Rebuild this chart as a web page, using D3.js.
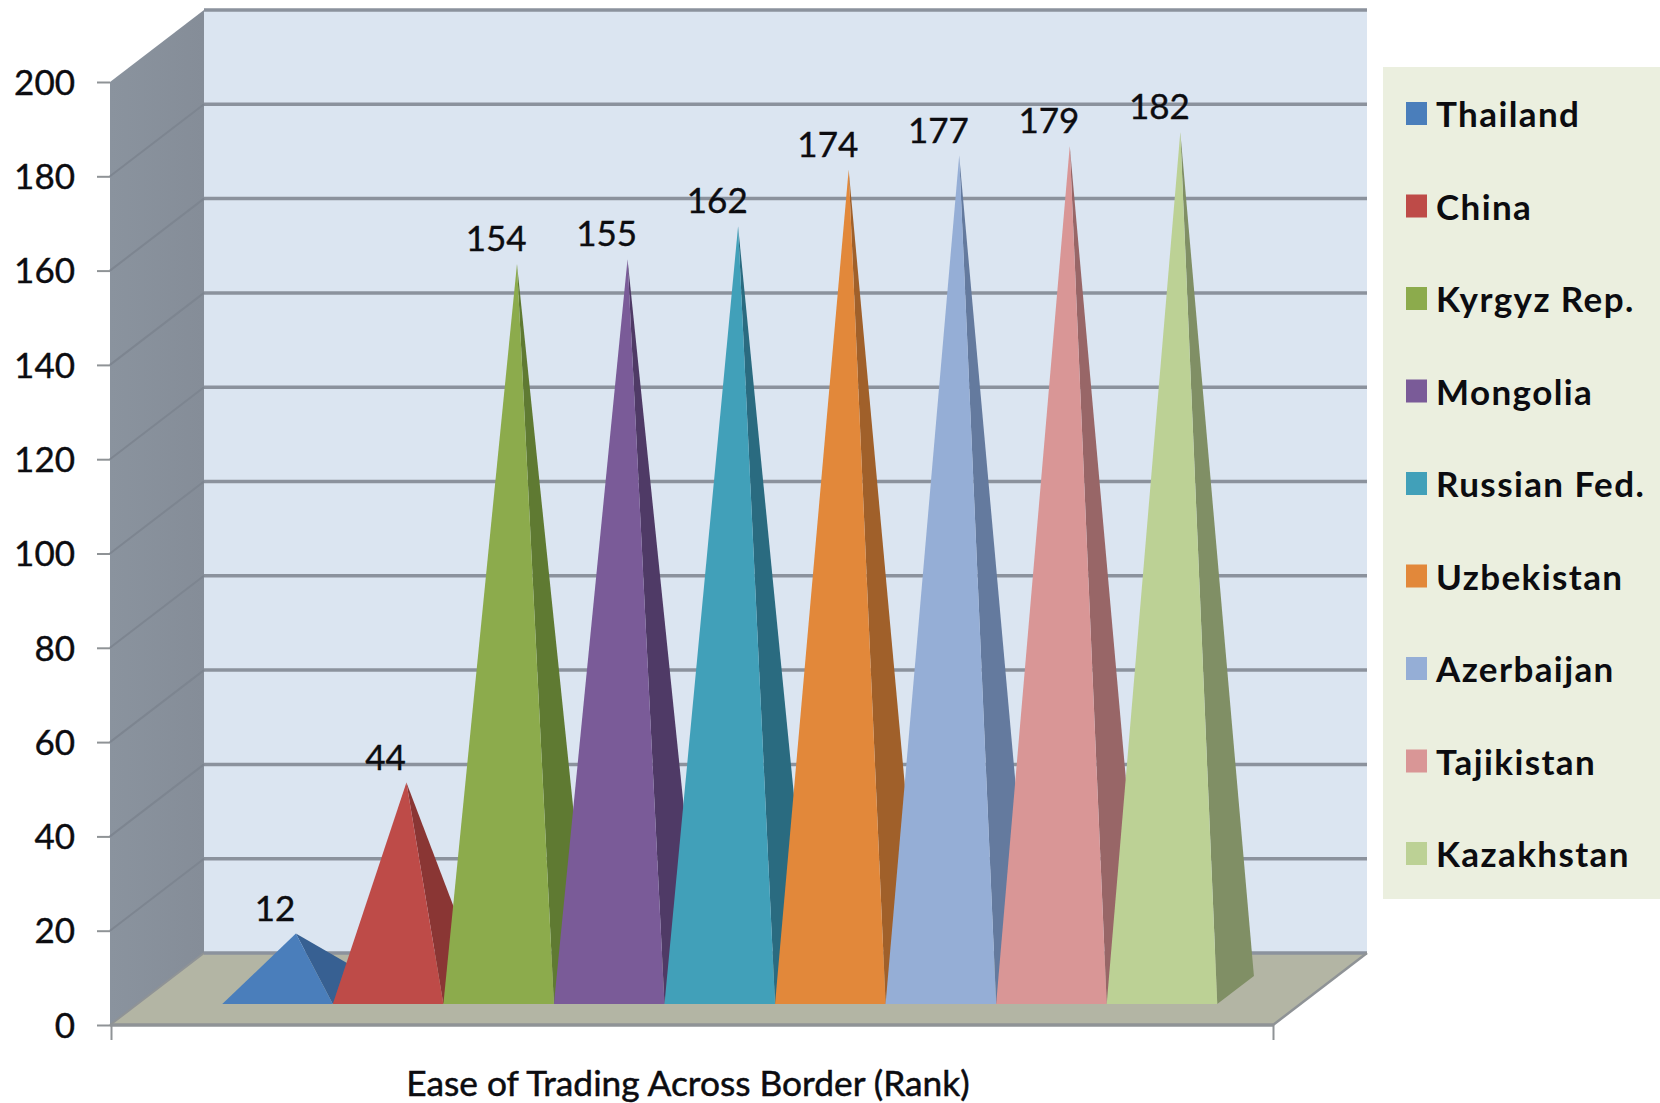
<!DOCTYPE html>
<html>
<head>
<meta charset="utf-8">
<script src="https://cdn.jsdelivr.net/npm/d3@7/dist/d3.min.js"></script>
<style>
  html, body { margin: 0; padding: 0; background: #fff; }
  svg { display: block; }
  text { font-family: Lato, "Open Sans", sans-serif; fill: #0c0c10; }
</style>
</head>
<body>
<svg id="chart" width="1660" height="1103"></svg>
<script>
// Ease of Trading Across Border rank, one pyramid per country
const countries = ["Thailand", "China", "Kyrgyz Rep.", "Mongolia", "Russian Fed.", "Uzbekistan", "Azerbaijan", "Tajikistan", "Kazakhstan"];
const ranks = [12, 44, 154, 155, 162, 174, 177, 179, 182];
const frontColors = ["#4a7ebb", "#be4b48", "#8cab4c", "#7a5b98", "#41a0b9", "#e2883a", "#95aed6", "#d99696", "#bcd195"];
const sideColors = ["#376092", "#8a3634", "#5f7a32", "#4f3a66", "#2a6b80", "#a0602a", "#647a9e", "#986667", "#808f65"];
const valueTicks = [0, 20, 40, 60, 80, 100, 120, 140, 160, 180, 200];
const axisTitle = "Ease of Trading Across Border (Rank)";

// Oblique projection: depth 0 is the front plane, depth 1 the back wall
const frame = { left: 110, right: 1273, bottom: 1025, top: 82, depthX: 94, depthY: -72 };
const baseDepth = { front: 0.29, back: 0.68 };

const y = d3.scaleLinear().domain([0, 200]).range([frame.bottom, frame.top]);
const x = d3.scaleBand().domain(countries).range([195, 1190]);
const depth = d3.scaleLinear().domain([0, 1]).range([0, 1]);
const legendY = d3.scalePoint().domain(countries).range([113, 853]);

const project = (px, value, d) => [
  px + depth(d) * frame.depthX,
  y(value) + depth(d) * frame.depthY
];
const poly = pts => pts.map(p => p.join(",")).join(" ");

const svg = d3.select("#chart");

// Back wall
svg.append("polygon")
  .attr("points", poly([
    project(frame.left, 200, 1), project(frame.right, 200, 1),
    project(frame.right, 0, 1), project(frame.left, 0, 1)
  ]))
  .attr("fill", "#dbe5f1");

// Side wall, with a slight horizontal shade
const defs = svg.append("defs");
const wallShade = defs.append("linearGradient").attr("id", "wallShade");
wallShade.append("stop").attr("offset", "0%").attr("stop-color", "#8a939e");
wallShade.append("stop").attr("offset", "100%").attr("stop-color", "#858d98");
svg.append("polygon")
  .attr("points", poly([
    project(frame.left, 200, 0), project(frame.left, 200, 1),
    project(frame.left, 0, 1), project(frame.left, 0, 0)
  ]))
  .attr("fill", "url(#wallShade)");

// Floor
svg.append("polygon")
  .attr("points", poly([
    project(frame.left, 0, 0), project(frame.right, 0, 0),
    project(frame.right, 0, 1), project(frame.left, 0, 1)
  ]))
  .attr("fill", "#b3b5a4");

// Gridlines across the back wall and the side wall
const grid = svg.append("g").attr("class", "grid");
grid.selectAll("line.back").data(valueTicks).join("line")
  .attr("class", "back")
  .attr("x1", project(frame.left, 0, 1)[0])
  .attr("x2", project(frame.right, 0, 1)[0])
  .attr("y1", d => project(0, d, 1)[1])
  .attr("y2", d => project(0, d, 1)[1])
  .attr("stroke", "#8b929d")
  .attr("stroke-width", 3.5);
grid.selectAll("line.side").data(valueTicks.filter(d => d > 0 && d < 200)).join("line")
  .attr("class", "side")
  .attr("x1", frame.left)
  .attr("y1", d => y(d))
  .attr("x2", project(frame.left, 0, 1)[0])
  .attr("y2", d => project(0, d, 1)[1])
  .attr("stroke", "#7d8590")
  .attr("stroke-width", 2);

// Floor edges
svg.append("line")
  .attr("x1", frame.left).attr("x2", frame.right)
  .attr("y1", y(0)).attr("y2", y(0))
  .attr("stroke", "#8f9396").attr("stroke-width", 3.5);
svg.append("line")
  .attr("x1", frame.left).attr("y1", y(0))
  .attr("x2", project(frame.left, 0, 1)[0]).attr("y2", project(0, 0, 1)[1])
  .attr("stroke", "#8f9396").attr("stroke-width", 2);
svg.append("line")
  .attr("x1", frame.right).attr("y1", y(0))
  .attr("x2", project(frame.right, 0, 1)[0]).attr("y2", project(0, 0, 1)[1])
  .attr("stroke", "#8f9396").attr("stroke-width", 2.5);

// Pyramids, drawn left to right so each one overlaps its neighbour's side face
const pyramids = svg.append("g").attr("class", "pyramids");
const pyramid = pyramids.selectAll("g").data(countries).join("g");
const apexOf = (c, i) => project(x(c) + x.bandwidth() / 2, ranks[i], (baseDepth.front + baseDepth.back) / 2);

pyramid.append("polygon")
  .attr("points", (c, i) => poly([
    project(x(c) + x.bandwidth(), 0, baseDepth.front),
    project(x(c) + x.bandwidth(), 0, baseDepth.back),
    apexOf(c, i)
  ]))
  .attr("fill", (c, i) => sideColors[i]);
pyramid.append("polygon")
  .attr("points", (c, i) => poly([
    project(x(c), 0, baseDepth.front),
    project(x(c) + x.bandwidth(), 0, baseDepth.front),
    apexOf(c, i)
  ]))
  .attr("fill", (c, i) => frontColors[i]);

// Value labels above each apex
svg.append("g").attr("class", "labels").selectAll("text").data(countries).join("text")
  .attr("x", c => project(x(c) + x.bandwidth() / 2, 0, baseDepth.front)[0] - 2.5)
  .attr("y", (c, i) => apexOf(c, i)[1] - 13)
  .attr("text-anchor", "middle")
  .attr("font-size", 35)
  .attr("stroke", "#0c0c10")
  .attr("stroke-width", 0.4)
  .text((c, i) => ranks[i]);

// Value axis
const yAxis = svg.append("g")
  .attr("transform", `translate(${frame.left},0)`)
  .call(d3.axisLeft(y).tickValues(valueTicks).tickSize(13).tickPadding(22));
yAxis.select(".domain").remove();
yAxis.selectAll(".tick line").attr("stroke", "#8f9396").attr("stroke-width", 2);
yAxis.selectAll(".tick text").attr("font-size", 35).attr("dy", "0.35em")
  .attr("stroke", "#0c0c10").attr("stroke-width", 0.4)
  .style("font-family", "Lato, sans-serif");

// Category axis: a single unlabelled span along the front edge
const xSpan = d3.scaleLinear().domain([0, 1]).range([frame.left + 1, frame.right]);
const xAxis = svg.append("g")
  .attr("transform", `translate(0,${y(0)})`)
  .call(d3.axisBottom(xSpan).tickValues([0, 1]).tickSize(15).tickFormat(""));
xAxis.select(".domain").remove();
xAxis.selectAll(".tick line").attr("stroke", "#8f9396").attr("stroke-width", 2);

svg.append("text")
  .attr("x", 688).attr("y", 1096)
  .attr("text-anchor", "middle")
  .attr("font-size", 35.3)
  .attr("stroke", "#0c0c10")
  .attr("stroke-width", 0.5)
  .text(axisTitle);

// Legend
svg.append("rect")
  .attr("x", 1383).attr("y", 67).attr("width", 277).attr("height", 832)
  .attr("fill", "#ebefdf");
const legend = svg.append("g").attr("class", "legend").selectAll("g").data(countries).join("g")
  .attr("transform", c => `translate(1406,${legendY(c)})`);
legend.append("rect")
  .attr("x", 0).attr("y", -11).attr("width", 21).attr("height", 23)
  .attr("fill", (c, i) => frontColors[i]);
legend.append("text")
  .attr("x", 30).attr("y", 1.5).attr("dy", "0.36em")
  .attr("font-size", 35)
  .attr("font-weight", 700)
  .attr("letter-spacing", 1.4)
  .text(c => c);
</script>
</body>
</html>
